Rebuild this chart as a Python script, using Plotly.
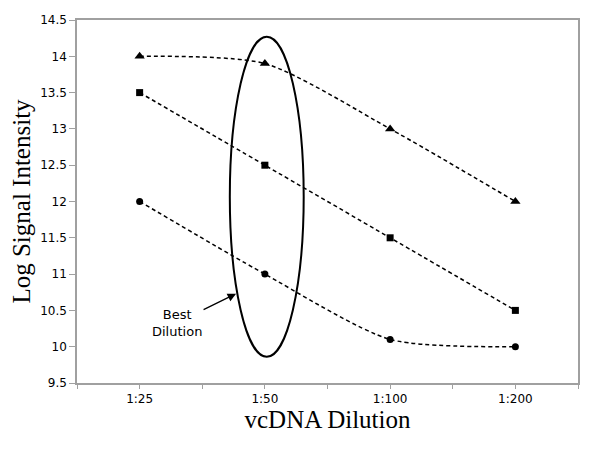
import plotly.graph_objects as go

categories = ["1:25", "1:50", "1:100", "1:200"]
triangle_vals = [14.0, 13.9, 13.0, 12.0]
square_vals = [13.5, 12.5, 11.5, 10.5]
circle_vals = [12.0, 11.0, 10.1, 10.0]
y_ticks = [9.5, 10, 10.5, 11, 11.5, 12, 12.5, 13, 13.5, 14, 14.5]

xpos = list(range(len(categories)))

fig = go.Figure()
for vals, sym, size in [(triangle_vals, "triangle-up", 9),
                        (square_vals, "square", 7),
                        (circle_vals, "circle", 7)]:
    fig.add_trace(go.Scatter(
        x=xpos, y=vals, mode="lines+markers",
        line=dict(color="black", width=1.5, dash="4px,3px", shape="spline", smoothing=0.7),
        marker=dict(symbol=sym, size=size, color="black"),
        showlegend=False))

fig.add_shape(type="circle", xref="x", yref="y",
              x0=0.72, x1=1.31, y0=9.86, y1=14.27,
              line=dict(color="black", width=2))

fig.add_annotation(x=0.77, y=10.73, xref="x", yref="y",
                   text="Best<br>Dilution", showarrow=True,
                   ax=-59, ay=29, arrowhead=2, arrowsize=1.3, arrowwidth=1.3,
                   arrowcolor="black", standoff=0,
                   font=dict(family="DejaVu Sans", size=13, color="black"))

tickvals = [i * 0.5 - 0.5 for i in range(9)]
ticktext = [categories[int(v)] if v >= 0 and float(v).is_integer() else "" for v in tickvals]

fig.update_layout(
    width=600, height=450,
    margin=dict(l=69, r=30, t=12, b=75, autoexpand=False),
    plot_bgcolor="white", paper_bgcolor="white",
    xaxis=dict(range=[-0.5, 3.5], tickvals=tickvals, ticktext=ticktext, automargin=False,
               showgrid=False, zeroline=False, showline=True, linecolor="#a0a0a0",
               linewidth=1.5, mirror=True, ticks="outside", ticklen=4, tickcolor="#a0a0a0",
               tickfont=dict(family="DejaVu Sans", size=12, color="black"),
               title=dict(text="vcDNA Dilution", standoff=4,
                          font=dict(family="Liberation Serif", size=25, color="black"))),
    yaxis=dict(range=[9.5, 14.5], tickvals=y_ticks, ticktext=[f"{v:g}" for v in y_ticks],
               automargin=False,
               showgrid=False, zeroline=False, showline=True, linecolor="#a0a0a0",
               linewidth=1.5, mirror=True, ticks="outside", ticklen=6, tickcolor="#a0a0a0",
               tickfont=dict(family="DejaVu Sans", size=12, color="black"),
               title=dict(text="Log Signal Intensity", standoff=6,
                          font=dict(family="Liberation Serif", size=25, color="black"))),
)

fig.write_html("out.html")
